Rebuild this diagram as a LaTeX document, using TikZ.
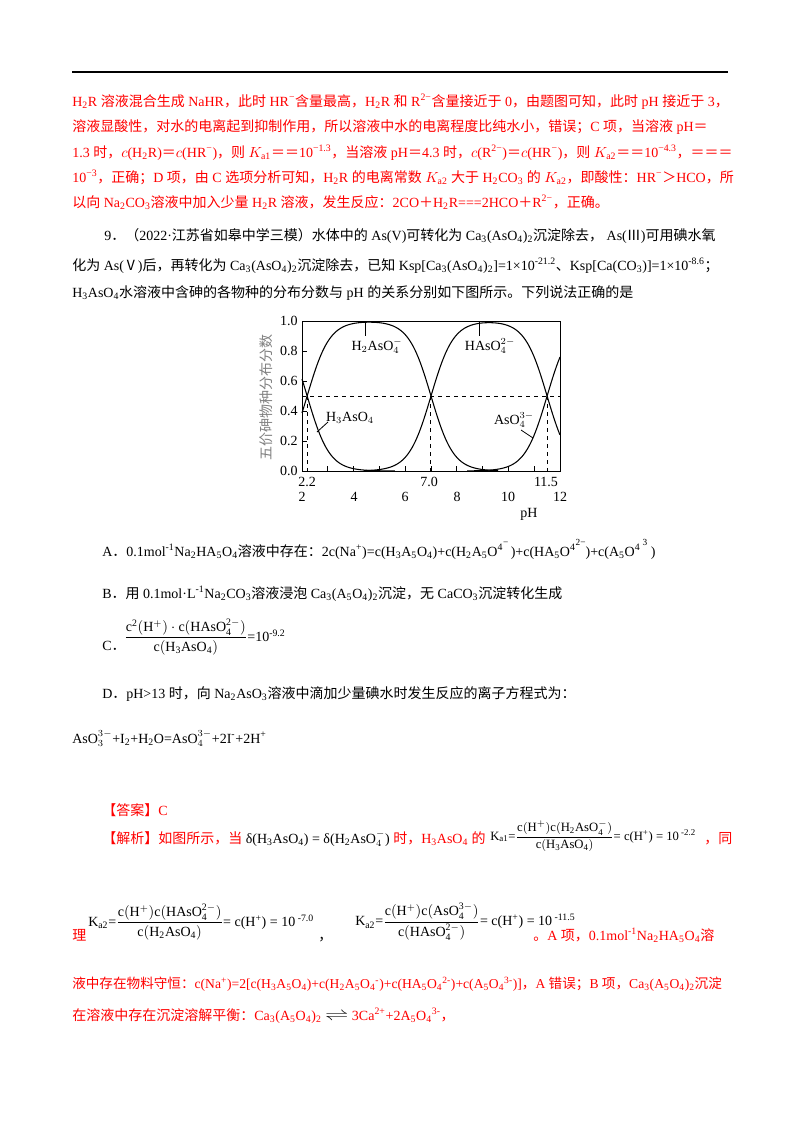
\documentclass[tikz,border=0pt]{standalone}
\usepackage{amsmath}
\usepackage{fontspec}
\setmainfont{Liberation Serif}
\newfontfamily\cjk{Noto Sans CJK SC}
\newXeTeXintercharclass\mycjk
\makeatletter
\def\setcls#1#2{\count@=#1\relax\loop\XeTeXcharclass\count@=\mycjk\advance\count@ 1\relax\ifnum\count@<#2\repeat}
\setcls{"4E00}{"A000}
\setcls{"3000}{"3040}
\setcls{"FF00}{"FFF0}
\setcls{"2150}{"2190}
\makeatother
\XeTeXinterchartokenstate=1
\XeTeXinterchartoks 0 \mycjk = {\cjk}
\XeTeXinterchartoks 4095 \mycjk = {\cjk}
\XeTeXinterchartoks \mycjk 0 = {\rmfamily}
\XeTeXinterchartoks \mycjk 4095 = {\rmfamily}
\newcommand\sbb[1]{\textsubscript{#1}}
\newcommand\spp[1]{\textsuperscript{#1}}
\begin{document}
\begin{tikzpicture}[x=0.75pt,y=-0.75pt,
  txt/.style={anchor=base west,inner sep=0pt,font=\fontsize{10.5}{12}\selectfont},
  rtxt/.style={txt,text=red},
  lab/.style={inner sep=0pt,font=\fontsize{10.5}{12}\selectfont},
  curve/.style={line width=0.8pt},
  guide/.style={dashed,line width=0.5pt}]
\useasboundingbox (0,0) rectangle (800,1132);
\draw[line width=0.8pt] (72,72) -- (728,72);
% red paragraph
\node[rtxt] (r1) at (72,106) {H\sbb{2}R 溶液混合生成 NaHR，此时 HR\spp{−}含量最高，H\sbb{2}R 和 R\spp{2−}含量接近于 0，由题图可知，此时 pH 接近于 3，};
\node[rtxt] (r2) at (72,131) {溶液显酸性，对水的电离起到抑制作用，所以溶液中水的电离程度比纯水小，错误；C 项，当溶液 pH＝};
\node[rtxt] (r3) at (72,157) {1.3 时，$c$(H\sbb{2}R)＝$c$(HR\spp{−})，则 $K_{\mathrm{a1}}$＝＝10\spp{−1.3}，当溶液 pH＝4.3 时，$c$(R\spp{2−})＝$c$(HR\spp{−})，则 $K_{\mathrm{a2}}$＝＝10\spp{−4.3}，＝＝＝};
\node[rtxt] (r4) at (72,182) {10\spp{−3}，正确；D 项，由 C 选项分析可知，H\sbb{2}R 的电离常数 $K_{\mathrm{a2}}$ 大于 H\sbb{2}CO\sbb{3} 的 $K_{\mathrm{a2}}$，即酸性：HR\spp{−}＞HCO，所};
\node[rtxt] (r5) at (72,207) {以向 Na\sbb{2}CO\sbb{3}溶液中加入少量 H\sbb{2}R 溶液，发生反应：2CO＋H\sbb{2}R===2HCO＋R\spp{2−}，正确。};
% question
\node[txt] (q1) at (104,240) {9．（2022·江苏省如皋中学三模）水体中的 As(V)可转化为 Ca\sbb{3}(AsO\sbb{4})\sbb{2}沉淀除去， As(Ⅲ)可用碘水氧};
\node[txt] (q2) at (72,270) {化为 As(Ⅴ)后，再转化为 Ca\sbb{3}(AsO\sbb{4})\sbb{2}沉淀除去，已知 Ksp[Ca\sbb{3}(AsO\sbb{4})\sbb{2}]=1×10\spp{-21.2}、Ksp[Ca(CO\sbb{3})]=1×10\spp{-8.6}；};
\node[txt] (q3) at (72,297) {H\sbb{3}AsO\sbb{4}水溶液中含砷的各物种的分布分数与 pH 的关系分别如下图所示。下列说法正确的是};
% chart
\draw[line width=0.6pt] (302,321) rectangle (560,471);
\foreach \p in {3,...,11}{\draw[line width=0.5pt] ({302+25.8*(\p-2)},471) -- ({302+25.8*(\p-2)},466);}
\foreach \v in {0.2,0.4,0.6,0.8}{\draw[line width=0.5pt] (302,{471-150*\v}) -- (307,{471-150*\v});}
\foreach \v/\t in {0/0.0,0.2/0.2,0.4/0.4,0.6/0.6,0.8/0.8,1/1.0}{\node[lab,anchor=east] at (298,{471-150*\v}) {\t};}
\node[lab,rotate=90,text=gray] (yl) at (266,397) {五价砷物种分布分数};
\foreach \p/\xx in {2/302,4/354,6/405,8/457,10/508,12/560}{\node[lab,anchor=base] at (\xx,501) {\p};}
\node[lab,anchor=base] at (307,486) {2.2};
\node[lab,anchor=base] at (429,486) {7.0};
\node[lab,anchor=base] at (546,486) {11.5};
\node[lab,anchor=base] (ph) at (529,517) {pH};
\draw[guide] (302,396) -- (560,396);
\draw[guide] (307.2,396) -- (307.2,471);
\draw[guide] (430.8,396) -- (430.8,471);
\draw[guide] (546.9,396) -- (546.9,471);
\draw[curve] plot[domain=2:5.6,samples=100] ({302+25.8*(\x-2)},{471-150/(1+pow(10,\x-2.2))});
\draw[curve] plot[domain=2:9.6,samples=160] ({302+25.8*(\x-2)},{471-150/(1+pow(10,2.2-\x)+pow(10,\x-7))});
\draw[curve] plot[domain=4.4:12,samples=160] ({302+25.8*(\x-2)},{471-150/(1+pow(10,7-\x)+pow(10,\x-11.5))});
\draw[curve] plot[domain=8.4:12,samples=100] ({302+25.8*(\x-2)},{471-150/(1+pow(10,11.5-\x))});
\draw[line width=0.6pt] (365,321) -- (365,336);
\draw[line width=0.6pt] (479,321) -- (479,336);
\draw[line width=0.6pt] (317,432) -- (328,422);
\draw[line width=0.6pt] (521,430) -- (533,438);
\node[lab] (l1) at (377,346) {H$_2$AsO$_4^{-}$};
\node[lab] (l2) at (490,346) {HAsO$_4^{2-}$};
\node[lab] (l3) at (350,418) {H$_3$AsO$_4$};
\node[lab] (l4) at (514,420) {AsO$_4^{3-}$};
% options
\node[txt] (oA) at (102,556) {A．0.1mol\spp{-1}Na\sbb{2}HA\sbb{5}O\sbb{4}溶液中存在：2c(Na\spp{+})=c(H\sbb{3}A\sbb{5}O\sbb{4})+c(H\sbb{2}A\sbb{5}O\spp{4}\raisebox{8pt}{\scriptsize −}\,)+c(HA\sbb{5}O\spp{4}\raisebox{8pt}{\scriptsize 2−})+c(A\sbb{5}O\spp{4}\raisebox{8pt}{\scriptsize\ 3}\ )};
\node[txt] (oB) at (102,598) {B．用 0.1mol·L\spp{-1}Na\sbb{2}CO\sbb{3}溶液浸泡 Ca\sbb{3}(A\sbb{5}O\sbb{4})\sbb{2}沉淀，无 CaCO\sbb{3}沉淀转化生成};
\node[txt] (oC) at (102,650) {C．};
\node[txt,anchor=west] (fC) at (124,637) {$\dfrac{\mathrm{c^2(H^+)\cdot c(HAsO_4^{2-})}}{\mathrm{c(H_3AsO_4)}}$=10\spp{-9.2}};
\node[txt] (oD) at (102,698) {D．pH>13 时，向 Na\sbb{2}AsO\sbb{3}溶液中滴加少量碘水时发生反应的离子方程式为：};
\node[txt] (eq) at (72,743) {AsO$_3^{3-}$+I\sbb{2}+H\sbb{2}O=AsO$_4^{3-}$+2I\spp{-}+2H\spp{+}};
% answer
\node[rtxt] (ans) at (102,815) {【答案】C};
\node[rtxt] (jx) at (102,843) {【解析】如图所示，当 \textcolor{black}{δ(H\sbb{3}AsO\sbb{4}) = δ(H\sbb{2}AsO$_4^-$)} 时，H\sbb{3}AsO\sbb{4} 的};
\node[txt,anchor=west,font=\fontsize{9.5}{11}\selectfont] (ka1) at (490,836) {K\sbb{a1}=$\dfrac{\mathrm{c(H^+)c(H_2AsO_4^-)}}{\mathrm{c(H_3AsO_4)}}$= c(H\spp{+}) = 10\spp{ -2.2}};
\node[rtxt] (tong) at (704,843) {，同};
\node[rtxt] (li) at (72,940) {理};
\node[txt,anchor=west] (ka2) at (88,922) {K\sbb{a2}=$\dfrac{\mathrm{c(H^+)c(HAsO_4^{2-})}}{\mathrm{c(H_2AsO_4)}}$= c(H\spp{+}) = 10\spp{ -7.0}};
\node[txt] (cm) at (318,940) {，};
\node[txt,anchor=west] (ka3) at (355,922) {K\sbb{a2}=$\dfrac{\mathrm{c(H^+)c(AsO_4^{3-})}}{\mathrm{c(HAsO_4^{2-})}}$= c(H\spp{+}) = 10\spp{ -11.5}};
\node[rtxt] (r6) at (533,940) {。A 项，0.1mol\spp{-1}Na\sbb{2}HA\sbb{5}O\sbb{4}溶};
\node[rtxt,font=\fontsize{10.2}{12}\selectfont] (r7) at (72,988) {液中存在物料守恒：c(Na\spp{+})=2[c(H\sbb{3}A\sbb{5}O\sbb{4})+c(H\sbb{2}A\sbb{5}O\sbb{4}\spp{-})+c(HA\sbb{5}O\sbb{4}\spp{2-})+c(A\sbb{5}O\sbb{4}\spp{3-})]，A 错误；B 项，Ca\sbb{3}(A\sbb{5}O\sbb{4})\sbb{2}沉淀};
\node[rtxt] (r8) at (72,1020) {在溶液中存在沉淀溶解平衡：Ca\sbb{3}(A\sbb{5}O\sbb{4})\sbb{2} \textcolor{black}{$\mathbin{\scalebox{1.6}[1]{$\rightleftharpoons$}}$} 3Ca\spp{2+}+2A\sbb{5}O\sbb{4}\spp{3-}，};
\end{tikzpicture}
\end{document}
